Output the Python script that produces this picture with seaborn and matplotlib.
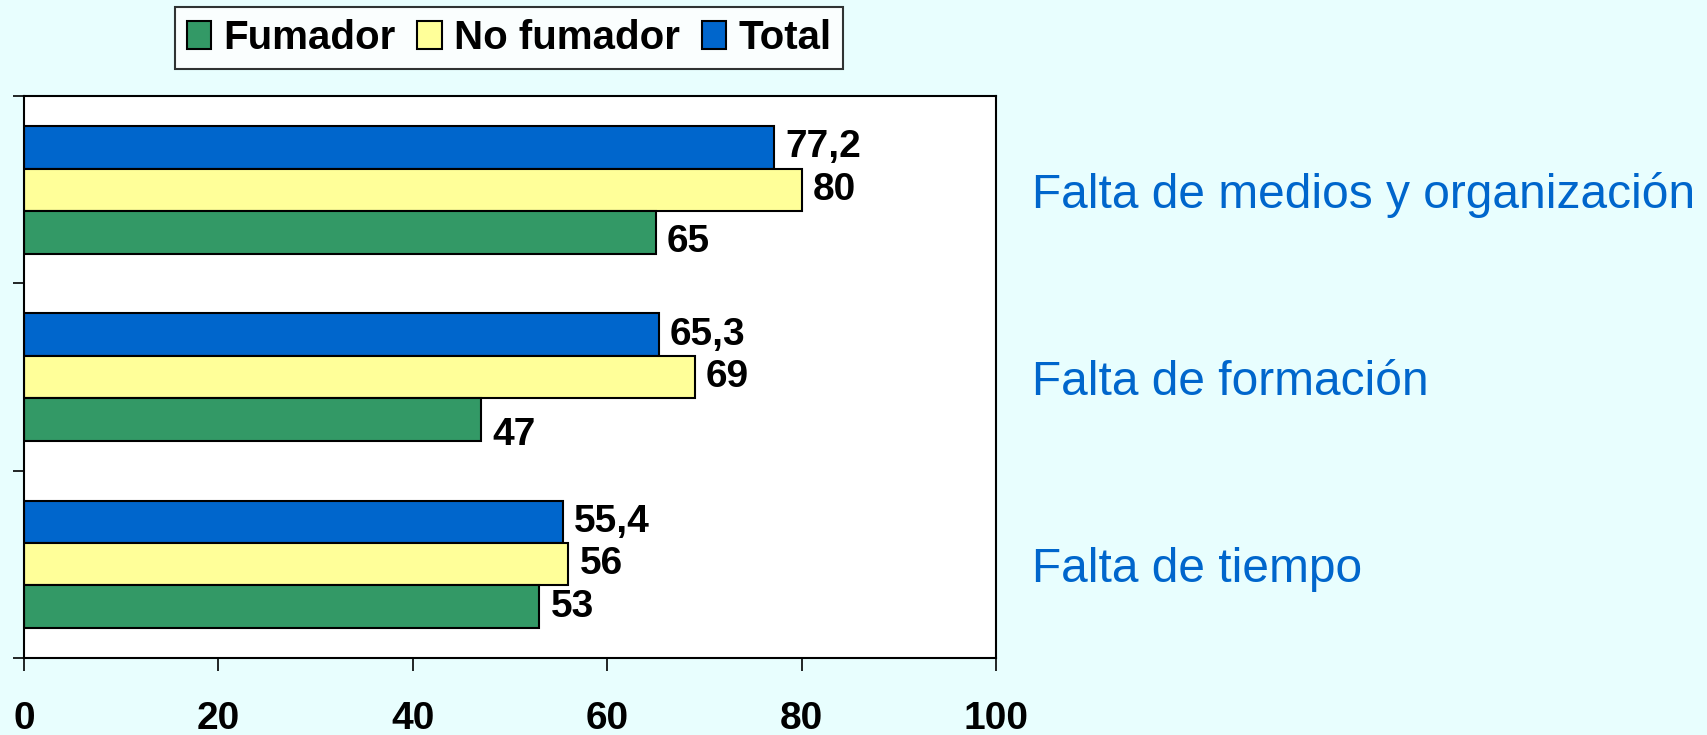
import matplotlib
matplotlib.use("Agg")
import matplotlib.pyplot as plt
import matplotlib.ticker as ticker
from matplotlib.patches import Patch
import pandas as pd
import seaborn as sns

categories = ["Falta de medios y organización", "Falta de formación", "Falta de tiempo"]
fumador = [65, 47, 53]
no_fumador = [80, 69, 56]
total = [77.2, 65.3, 55.4]

series_names = ["Fumador", "No fumador", "Total"]
colors = {"Fumador": "#339966", "No fumador": "#FFFF99", "Total": "#0066CC"}
BG = "#E8FEFE"

df = pd.DataFrame({
    "cat": categories * 3,
    "grupo": ["Fumador"] * 3 + ["No fumador"] * 3 + ["Total"] * 3,
    "valor": fumador + no_fumador + total,
})

sns.set_theme(style="white")
plt.rcParams["font.family"] = ["Liberation Sans", "DejaVu Sans"]
plt.rcParams["text.color"] = "black"
plt.rcParams["xtick.color"] = "black"
plt.rcParams["ytick.color"] = "black"

fig = plt.figure(figsize=(17.08, 7.35), dpi=100, facecolor=BG)
ax = fig.add_axes([0.0141, 0.105, 0.5691, 0.764])
ax.set_facecolor("white")

hue_order = ["Total", "No fumador", "Fumador"]
sns.barplot(data=df, y="cat", x="valor", hue="grupo", hue_order=hue_order,
            order=categories, palette=colors, orient="h", width=0.68,
            edgecolor="black", linewidth=1.5, saturation=1, legend=False, ax=ax)

# value labels (Excel style, comma decimals); Fumador labels nudged down a bit
nudge = {"Fumador": [-10, -16, 0]}
for cont, name in zip(ax.containers, hue_order):
    for i, bar in enumerate(cont):
        v = bar.get_width()
        txt = ("%.1f" % v).replace(".", ",") if v % 1 else "%d" % v
        dy = nudge.get(name, [0, 0, 0])[i]
        ax.annotate(txt, (v, bar.get_y() + bar.get_height() / 2),
                    xytext=(8, dy * 0.72), textcoords="offset points",
                    ha="left", va="center", fontsize=28, fontweight="bold",
                    color="black")

ax.set_xlim(0, 100)
ax.set_ylim(2.5, -0.5)
ax.xaxis.set_major_locator(ticker.MultipleLocator(20))
ax.set_xlabel("")
ax.set_ylabel("")

for s in ax.spines.values():
    s.set_color("black")
    s.set_linewidth(1.5)
    s.set_visible(True)

ax.tick_params(axis="x", which="major", bottom=True, direction="out", length=9,
               width=1.2, color="black", labelsize=28, labelcolor="black", pad=22)
for lab in ax.get_xticklabels():
    lab.set_fontweight("bold")

# category names on the right, tick marks on the left at group boundaries
ax.yaxis.set_minor_locator(ticker.FixedLocator([-0.5, 0.5, 1.5, 2.5]))
ax.tick_params(axis="y", which="minor", left=True, right=False, direction="out",
               length=8, width=1.2, color="black")
ax.tick_params(axis="y", which="major", left=False, right=False,
               labelleft=False, labelright=True, labelsize=34.5,
               labelcolor="#0066CC", pad=20)

handles = [Patch(facecolor=colors[n], edgecolor="black", linewidth=1.5) for n in series_names]
leg = fig.legend(handles, series_names, loc="center", bbox_to_anchor=(0.298, 0.948),
                 ncol=3, frameon=True, fancybox=False, edgecolor="black",
                 facecolor="white", prop={"size": 29, "weight": "bold"},
                 handlelength=0.6, handleheight=0.7, handletextpad=0.3,
                 columnspacing=0.55, borderpad=0.3, borderaxespad=0)
leg.get_frame().set_linewidth(1.5)
for t in leg.get_texts():
    t.set_color("black")

fig.savefig("out.png", dpi=100, facecolor=BG)
